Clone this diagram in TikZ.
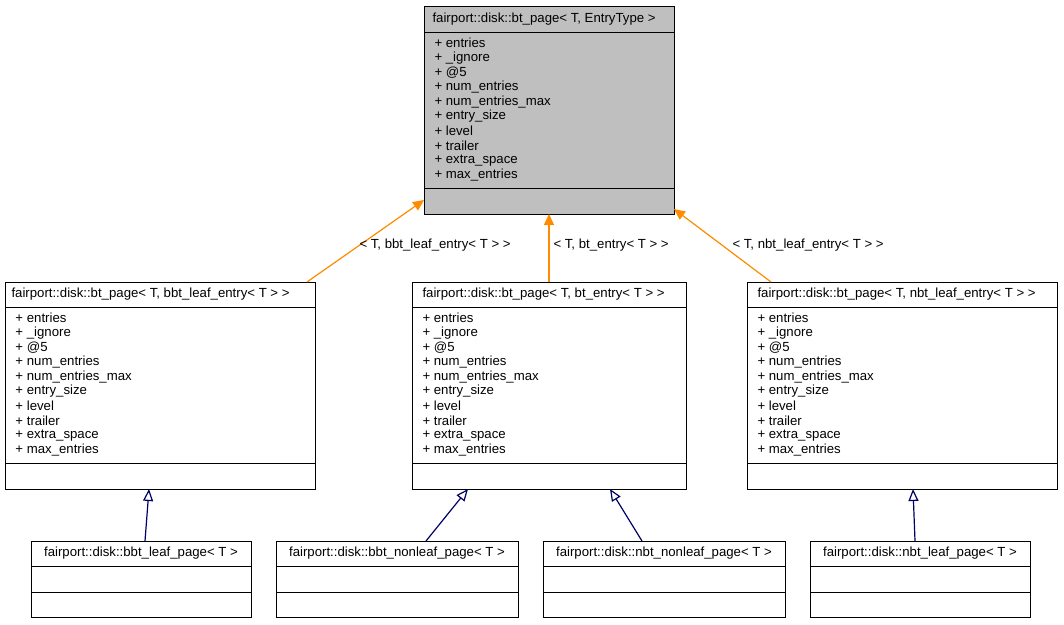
\documentclass[tikz,border=0pt]{standalone}
\usepackage{fontspec}
\setmainfont{Liberation Sans}
\usetikzlibrary{arrows.meta}
\begin{document}
\begin{tikzpicture}[x=1pt,y=-1pt,line width=1pt,
  box/.style={draw,fill=white,inner sep=0,anchor=north west},
  txt/.style={anchor=west,inner sep=0,font=\fontsize{13.2}{15}\selectfont},
  inh/.style={draw=orange!90!yellow,line width=1.2pt,-{Triangle[length=11pt,width=10pt]},fill=orange!90!yellow},
  der/.style={draw=blue!40!black,line width=1.2pt,-{Triangle[open,length=12pt,width=10pt]},fill=white},
  lbl/.style={inner sep=0,font=\fontsize{13.2}{15}\selectfont}]
\useasboundingbox (0,0) rectangle (1064,624);
\newcommand{\cls}[5]{%
  \node[box,minimum width=#4-#2,minimum height=#5-#3] (#1) at (#2,#3) {};
}
\newcommand{\members}[2]{%
  \foreach \m [count=\i] in {entries,\_ignore,@5,num\_entries,num\_entries\_max,entry\_size,level,trailer,extra\_space,max\_entries}
    \node[txt] at (#1+10,#2+11+14.65*\i-14.65) {+ \m};}
% top
\node[box,fill=gray!50,minimum width=250,minimum height=208] (top) at (424,6) {};
\draw (424,32) -- (674,32) (424,188) -- (674,188);
\node[txt] at (432,19) {fairport::disk::bt\_page< T, EntryType >};
\members{424}{32}
% middle
\cls{ml}{5}{282}{315}{489}
\draw (5,307) -- (315,307) (5,463) -- (315,463);
\node[txt] at (11,294) {fairport::disk::bt\_page< T, bbt\_leaf\_entry< T > >};
\members{5}{307}
\cls{mc}{412}{282}{686}{489}
\draw (412,307) -- (686,307) (412,463) -- (686,463);
\node[txt] at (422,294) {fairport::disk::bt\_page< T, bt\_entry< T > >};
\members{412}{307}
\cls{mr}{747}{282}{1057}{489}
\draw (747,307) -- (1057,307) (747,463) -- (1057,463);
\node[txt] at (757,294) {fairport::disk::bt\_page< T, nbt\_leaf\_entry< T > >};
\members{747}{307}
% bottom
\foreach \n/\a/\b/\t in {b1/31/251/fairport::disk::bbt\_leaf\_page< T >,b2/276/518/fairport::disk::bbt\_nonleaf\_page< T >,b3/543/785/fairport::disk::nbt\_nonleaf\_page< T >,b4/810/1030/fairport::disk::nbt\_leaf\_page< T >}{
  \node[box,minimum width=\b-\a,minimum height=76] (\n) at (\a,541) {};
  \draw (\a,566) -- (\b,566) (\a,592) -- (\b,592);
  \node[lbl] at ({(\a+\b)/2},553) {\t};
}
% inheritance arrows
\coordinate (a1) at (307,282); \coordinate (t1) at (424,200);
\coordinate (a2) at (549,282); \coordinate (t2) at (549,214);
\coordinate (a3) at (771,282); \coordinate (t3) at (674,209);
\draw[inh] (a1) -- (t1);
\draw[inh] (a2) -- (t2);
\draw[inh] (a3) -- (t3);
\node[lbl,anchor=west] at (359,245) {< T, bbt\_leaf\_entry< T > >};
\node[lbl,anchor=west] at (553,245) {< T, bt\_entry< T > >};
\node[lbl,anchor=west] at (732,245) {< T, nbt\_leaf\_entry< T > >};
% derivation arrows
\coordinate (d1) at (145,541); \coordinate (e1) at (149,489);
\coordinate (d2) at (426,541); \coordinate (e2) at (468,489);
\coordinate (d3) at (642,541); \coordinate (e3) at (610,489);
\coordinate (d4) at (915,541); \coordinate (e4) at (913,489);
\foreach \i in {1,...,4} \draw[der] (d\i) -- (e\i);
\end{tikzpicture}
\end{document}
